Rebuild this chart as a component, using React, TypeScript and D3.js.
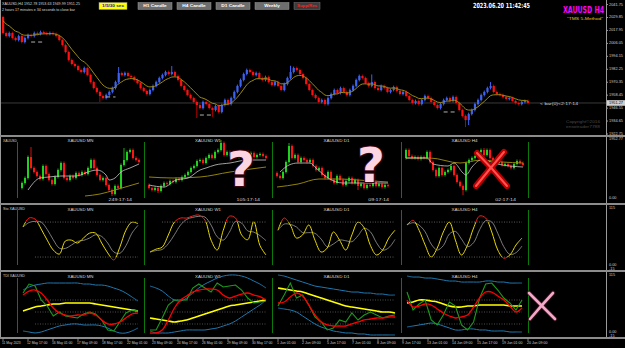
import React from 'react';
import * as d3 from 'd3';

const FONT = '"DejaVu Sans", "Liberation Sans", sans-serif';
const NARROW = '"Liberation Sans", Arial, sans-serif';

// ---------------- main H4 chart data ----------------
const mainOpen0 = 2030.3;
const mainClose = [
  2015.6, 2012.8, 2015.6, 2011.0, 2009.1, 2012.8, 2007.3, 2011.0, 2013.7, 2012.8,
  2015.6, 2014.7, 2016.5, 2015.6, 2014.7, 2015.6, 2014.7, 2012.8, 2009.1, 2004.5,
  1998.1, 1990.8, 1987.1, 1985.2, 1981.6, 1979.7, 1983.4, 1977.0, 1970.5, 1965.0,
  1961.4, 1957.7, 1955.8, 1958.6, 1961.4, 1965.0, 1970.5, 1978.8, 1977.0, 1978.8,
  1976.1, 1975.1, 1972.4, 1969.6, 1965.0, 1962.3, 1959.5, 1963.2, 1966.9, 1970.5,
  1974.2, 1977.0, 1979.7, 1977.9, 1979.7, 1976.1, 1972.4, 1966.9, 1963.2, 1958.6,
  1955.8, 1952.2, 1949.4, 1946.6, 1952.2, 1950.3, 1946.6, 1944.8, 1948.5, 1943.0,
  1949.4, 1954.0, 1950.3, 1955.8, 1961.4, 1966.9, 1972.4, 1977.9, 1981.6, 1979.7,
  1977.0, 1978.8, 1974.2, 1972.4, 1975.1, 1970.5, 1967.8, 1970.5, 1966.9, 1963.2,
  1968.7, 1974.2, 1979.7, 1983.4, 1981.6, 1977.9, 1974.2, 1968.7, 1963.2, 1958.6,
  1955.8, 1952.2, 1954.0, 1950.3, 1955.8, 1959.5, 1963.2, 1960.4, 1965.0, 1961.4,
  1958.6, 1963.2, 1966.9, 1972.4, 1976.1, 1974.2, 1969.6, 1966.9, 1970.5, 1965.0,
  1963.2, 1966.9, 1965.0, 1961.4, 1963.2, 1965.9, 1962.3, 1959.5, 1961.4, 1957.7,
  1954.0, 1951.2, 1953.1, 1950.3, 1954.0, 1957.7,
  1955.8, 1952.2, 1949.4, 1946.6, 1950.3, 1954.0, 1955.8, 1953.1, 1956.8, 1951.2,
  1944.8, 1939.3, 1935.6, 1941.1, 1944.8, 1950.3, 1954.0, 1958.6, 1961.4, 1965.0,
  1966.9, 1961.4, 1959.5, 1958.6, 1956.8, 1954.9, 1955.8, 1953.1, 1951.2, 1950.3,
  1952.2, 1953.1, 1951.27,
];
const mainHighSpikes: [number, number][] = [[0, 2031.5], [37, 1984.3], [54, 1985.2], [92, 1985.5], [118, 1977.5], [156, 1970.5]];
const mainLowSpikes: [number, number][] = [[31, 1952.2], [62, 1937.5], [67, 1938.5], [148, 1929.1], [149, 1931.0]];
const suppResMarks: [number, number, number][] = [[9, 13, 2007.3], [33, 36, 1956.8], [63, 67, 1940.2], [141, 145, 1943.0]];
const priceTicks = [2041.75, 2029.85, 2017.95, 2006.05, 1994.15, 1982.25, 1970.35, 1958.45, 1946.55, 1934.65, 1922.75];
const lastPrice = 1951.27;
const timeLabels = [
  '11 May 2023', '12 May 17:00', '16 May 01:00', '17 May 09:00', '18 May 17:00', '22 May 01:00',
  '23 May 09:00', '24 May 17:00', '26 May 01:00', '29 May 09:00', '30 May 17:00', '1 Jun 01:00',
  '2 Jun 09:00', '5 Jun 17:00', '7 Jun 01:00', '8 Jun 09:00', '9 Jun 17:00', '13 Jun 01:00',
  '14 Jun 09:00', '15 Jun 17:00', '19 Jun 01:00', '20 Jun 09:00',
];
const buttons = ['H1 Candle', 'H4 Candle', 'D1 Candle', 'Weekly'];

// ---------------- multi timeframe mini charts ----------------
const tfNames = ['XAUUSD MN', 'XAUUSD W1', 'XAUUSD D1', 'XAUUSD H4'];
const tfTimers = ['249:17:14', '105:17:14', '09:17:14', '02:17:14'];
const miniOpen0 = [12, 15, 27, 42];
const miniCloseMN = [17,22,43,32,28,24,21,34,26,20,16,23,30,37,22,20,24,22,27,25,28,26,32,40,32,25,20,22,15,10,6,14,12,35,40,48,50,42,40,38];
const miniCloseW1 = [12,10,12,9,14,17,16,19,18,21,20,23,25,28,32,34,39,40,37,42,45,42,48,50,57,45,48,44,47,43,46,44,48,45,47,43,45,46,44,42];
const miniCloseD1 = [24,22,28,38,54,42,45,38,42,40,38,40,34,30,32,25,22,28,20,17,24,20,15,19,22,17,20,14,16,12,15,14,18,14,16,13,15,14];
const miniCloseH4 = [50,44,42,43,41,43,42,48,38,30,24,32,25,28,30,34,25,18,14,10,37,40,42,44,48,50,45,50,42,40,37,38,35,36,34,32,36,39,37,35];
const miniWhiteMN: [number, number][] = [[2,10],[6,22],[9,23],[13,24],[18,24],[23,29],[25,30],[28,25],[29,20],[31,22],[33,28],[36,32],[39,36]];
const miniWhiteW1: [number, number][] = [[0,15],[5,13],[9,20],[13,22],[17,30],[19,32],[22,35],[27,37],[33,40],[39,40]];
const miniWhiteD1: [number, number][] = [[1,28],[4,35],[7,37],[11,37],[13,32],[17,22],[22,17],[27,17],[37,17]];
const miniWhiteH4: [number, number][] = [[0,42],[7,42],[9,36],[14,34],[16,37],[19,27],[20,25],[22,33],[25,40],[32,35],[39,33]];
const miniOliveMN: [number, number][] = [[21,4],[26,6],[31,10],[39,17]];
const miniOliveW1: [number, number][] = [[0,23],[8,22],[17,23],[27,28],[39,33]];
const miniOliveD1: [number, number][] = [[0,13],[7,16],[14,21],[21,21],[27,20],[37,18]];
const miniOliveH4: [number, number][] = [[0,42],[8,42],[18,37],[25,40],[32,38],[39,37]];
const miniHighSpikes: [number, number][][] = [[[3, 53], [34, 52]], [[24, 60]], [[4, 57]], [[26, 52]]];
const miniLowSpikes: [number, number][][] = [[[30, 4]], [[3, 7]], [[27, 10]], [[19, 5]]];

// ---------------- stochastic ----------------
const stochMN = [71.5,87,85,68,49,32,25,47.5,49,44,52.7,61,61,44,27,15,37,66,80,77];
const stochW1 = [28.6,33.6,37,57.8,80,86.9,86.9,90.4,92,83.4,49,32,66,90,87,58,49.6,80.8,40,23.5];
const stochD1 = [66,87,75,52.6,58,75,49,28.6,35.5,63,49,32,58,80,70,40,23.5,32,52.6,66];
const stochH4 = [75,83,66,40.6,20,35.5,63,80,49,23.5,40.6,69.8,90.4,86.9,63,32,18,23.5,40.6,52.6];

// ---------------- TDI ----------------
const tdiUpper = [
  [83,87.5,90.5,92,93.5,93.5,93.5,93.5,93.5,93.5,92,92,90.5,90.5,89,86,83,78.5,72.5,66.5],
  [89,86,81.5,74,68,66.5,71,78.5,86,92,96.5,101,104,105.5,105.5,104,101,96.5,92,86],
  [105.5,104,101,98,95,92,89,87.5,86,84.5,83,81.5,80,80,78.5,78.5,77,77,75.5,75.5],
  [104,102.5,102.5,101,101,99.5,98,96.5,96.5,95,95,95,95,96.5,96.5,95,95,93.5,93.5,93.5],
];
const tdiLower = [
  [21.5,20,18.5,20,23,26,29,30.5,32,32,30.5,30.5,30.5,29,26,21.5,18.5,18.5,21.5,26],
  [21.5,18.5,18.5,18.5,20,21.5,23,23,23,23,24.5,26,29,32,36.5,42.5,48.5,54.5,60.5,68],
  [56,54.5,53,50,44,38,32,27.5,24.5,21.5,20,18.5,18.5,17,17,15.5,15.5,15.5,15.5,15.5],
  [27.5,29,30.5,32,33.5,32,29,26,23,23,24.5,24.5,23,23,21.5,21.5,21.5,20,20,20],
];
const tdiMid = [
  [51.5,54.5,57.5,59,60.5,62,62,63.5,63.5,63.5,63.5,63.5,62,60.5,59,57.5,56,54.5,53,51.5],
  [41,39.5,38,36.5,35,36.5,38,41,44,47,50,53,56,59,60.5,62,63.5,65,66.5,68],
  [86,84.5,83,81.5,80,77,74,71,68,65,62,59,57.5,56,54.5,53,51.5,50,50,48.5],
  [63.5,65,68,68,66.5,65,62,59,57.5,57.5,59,59,60.5,60.5,60.5,60.5,60.5,59,59,59],
];
const tdiSignal = [
  [75.5,81.5,83,78.5,68,56,48.5,45.5,44,45.5,45.5,48.5,45.5,38,32,32,35,41,47,48.5],
  [18.5,18.5,23,38,56,68,74,80,83,84.5,84.5,83,75.5,71,74,77,78.5,75.5,73,68],
  [63.5,65,72.5,78.5,74,60.5,45.5,35,30.5,29,29,29,32,35,38,39.5,41,41,42.5,42.5],
  [68,57.5,59,62,60.5,54.5,48.5,44,41,42.5,45.5,57.5,71,80,80,74,68,59,50,56],
];
const tdiRsi = [
  [78.5,92,89,68,59,44,50,44,42.5,41,47,50,47,38,23,21.5,35,48.5,53,51.5],
  [23,23,41,60.5,68,68,68,86,92,86,80,93.5,87.5,89,90.5,83,71,63.5,65,66.5],
  [59,75.5,93.5,71,75.5,60.5,42.5,35,23,26,38,35,48.5,38,45.5,50,45.5,41,44,45.5],
  [80,53,62,68,38,30.5,45.5,65,59,30.5,23,35,71,92,93.5,83,71,63.5,53,68],
];

const subEdges = [17, 144, 272, 401, 528];

export default function App() {
  const mainX = d3.scaleLinear().domain([0, mainClose.length - 1]).range([3, 528]);
  const mainY = d3.scaleLinear().domain([1920, 2045]).range([137, 1]);

  // EMA of the closes (the moving average on the price chart)
  const ma: number[] = [];
  let e = mainOpen0;
  const k = 2 / (8 + 1);
  mainClose.forEach((c) => { e = e + (c - e) * k; ma.push(e); });
  const maLine = d3.line<number>().x((_, i) => mainX(i)).y((d) => mainY(d)).curve(d3.curveMonotoneX);

  const hiMap = new Map(mainHighSpikes);
  const loMap = new Map(mainLowSpikes);

  const miniCloses = [miniCloseMN, miniCloseW1, miniCloseD1, miniCloseH4];
  const miniWhite = [miniWhiteMN, miniWhiteW1, miniWhiteD1, miniWhiteH4];
  const miniOlive = [miniOliveMN, miniOliveW1, miniOliveD1, miniOliveH4];
  const miniY = d3.scaleLinear().domain([0, 60]).range([200, 140]);

  const stochs = [stochMN, stochW1, stochD1, stochH4];
  const stY = d3.scaleLinear().domain([0, 100]).range([268.7, 210.4]);
  const tdY = d3.scaleLinear().domain([0, 100]).range([345.3, 278.7]);

  const txt = (x: number, y: number, s: string, opts: any = {}) => (
    <text x={x} y={y} fontFamily={opts.family ?? FONT} fontSize={opts.size ?? 5} fill={opts.fill ?? '#d8d8d8'}
      textAnchor={opts.anchor ?? 'start'} fontWeight={opts.weight ?? 'normal'} dominantBaseline="middle"
      textLength={opts.len} lengthAdjust={opts.len ? 'spacingAndGlyphs' : undefined}>{s}</text>
  );

  return (
    <svg width={625} height={348} style={{ position: 'absolute', left: 0, top: 0, background: '#000', display: 'block' }}>
      <defs>
        <clipPath id="stMid"><rect x={0} y={222} width={606} height={35} /></clipPath>
        <clipPath id="stOut"><rect x={0} y={200} width={606} height={22} /><rect x={0} y={257} width={606} height={20} /></clipPath>
        <clipPath id="mainClip"><rect x={1} y={0} width={605} height={135} /></clipPath>
      </defs>
      <rect x={0} y={0} width={625} height={348} fill="#000" />

      {/* frames & separators */}
      <line x1={606.5} y1={0} x2={606.5} y2={338} stroke="#9a9a9a" strokeWidth={1} />
      <line x1={0.5} y1={0} x2={0.5} y2={338} stroke="#9a9a9a" strokeWidth={1} />
      {[136, 204, 271, 338].map((y) => (
        <rect key={y} x={0} y={y - 1} width={625} height={2} fill="#8c8c8c" />
      ))}

      {/* ---------- main chart ---------- */}
      <g clipPath="url(#mainClip)">
        <line x1={0} x2={606} y1={mainY(lastPrice)} y2={mainY(lastPrice)} stroke="#3a3a3a" strokeWidth={1} />
        {mainClose.map((c, i) => {
          const o = i === 0 ? mainOpen0 : mainClose[i - 1];
          const up = c >= o;
          const hi = hiMap.get(i) ?? Math.max(o, c) + 1.3;
          const lo = loMap.get(i) ?? Math.min(o, c) - 1.3;
          const col = up ? '#3b62f0' : '#ff1010';
          const x = mainX(i);
          return (
            <g key={i}>
              <line x1={x} x2={x} y1={mainY(hi)} y2={mainY(lo)} stroke={up ? '#3b62f0' : '#b00000'} strokeWidth={1} />
              <rect x={x - 1} y={mainY(Math.max(o, c))} width={2.2} height={Math.max(1, mainY(Math.min(o, c)) - mainY(Math.max(o, c)))} fill={col} />
            </g>
          );
        })}
        <path d={maLine(ma) ?? ''} fill="none" stroke="#9c8a10" strokeWidth={1} />
        {suppResMarks.map(([a, b, p], i) => (
          <line key={i} x1={mainX(a)} x2={mainX(b)} y1={mainY(p)} y2={mainY(p)} stroke="#b0b0b0" strokeWidth={1} strokeDasharray="4,3" />
        ))}
      </g>
      {txt(2, 4, 'XAUUSD,H4  1952.78 1953.63 1949.99 1951.25', { size: 3.8, family: NARROW, len: 78 })}
      {txt(2, 9.5, '2 hours 17 minutes e 34 seconds to close bar', { size: 3.8, family: NARROW, len: 73 })}
      <rect x={99} y={2.5} width={28} height={7} fill="#ffff00" stroke="#888" strokeWidth={0.5} />
      {txt(113, 6.2, '1/5/30 sec', { size: 4, family: NARROW, fill: '#1010c0', anchor: 'middle', weight: 'bold', len: 22 })}
      {buttons.map((b, i) => (
        <g key={b}>
          <rect x={138 + i * 39} y={2.5} width={34} height={7} fill="#6e6e6e" stroke="#9a9a9a" strokeWidth={0.5} />
          {txt(155 + i * 39, 6.2, b, { size: 4.2, family: NARROW, fill: '#ffffff', anchor: 'middle', weight: 'bold', len: b.length * 2.6 })}
        </g>
      ))}
      <rect x={294} y={2.5} width={26} height={7} fill="#3c3c3c" stroke="#777" strokeWidth={0.5} />
      {txt(307, 6.2, 'Supp/Res', { size: 4.2, family: NARROW, fill: '#ff2020', anchor: 'middle', weight: 'bold', len: 20 })}
      {txt(473, 6.5, '2023.06.20 11:42:45', { size: 7, fill: '#ffffff', weight: 'bold', len: 57 })}
      {txt(563, 10.5, 'XAUUSD H4', { size: 8, fill: '#ff00ff', weight: 'bold', len: 41 })}
      {txt(567, 18.5, '"TMS 5-Method"', { size: 4.3, family: NARROW, fill: '#e6c020', len: 36 })}
      {txt(540, mainY(lastPrice) + 0.5, '< bar(0)<2:17:14', { size: 4.4, family: NARROW, fill: '#d0d0d0', len: 38 })}
      {txt(566, 121.5, 'Copyright©2016', { size: 4, family: NARROW, fill: '#4a4a4a', len: 34 })}
      {txt(566, 126.5, 'ensotrader7788', { size: 4, family: NARROW, fill: '#4a4a4a', len: 34 })}
      {priceTicks.map((p) => (
        <g key={p}>
          <line x1={606} x2={608} y1={mainY(p)} y2={mainY(p)} stroke="#9a9a9a" />
          {txt(609, mainY(p), p.toFixed(2), { size: 3.8, family: NARROW, fill: '#cfcfcf', len: 14 })}
        </g>
      ))}
      <rect x={607} y={mainY(lastPrice) - 2.8} width={18} height={5.6} fill="#d0d0d0" />
      {txt(609, mainY(lastPrice), lastPrice.toFixed(2), { size: 3.8, family: NARROW, fill: '#000', len: 14 })}

      {/* ---------- panel labels ---------- */}
      {txt(3, 140.5, 'XAUUSD', { size: 3.8, family: NARROW, fill: '#cfcfcf', len: 14 })}
      {txt(3, 208.5, 'Sto XAUUSD', { size: 3.8, family: NARROW, fill: '#cfcfcf', len: 22 })}
      {txt(3, 275.5, 'TDI XAUUSD', { size: 3.8, family: NARROW, fill: '#cfcfcf', len: 22 })}
      {txt(609, 139, '1952.77', { size: 3.8, family: NARROW, fill: '#cfcfcf', len: 14 })}
      {txt(609, 198, '0.00', { size: 3.8, family: NARROW, fill: '#cfcfcf' })}
      {txt(609, 207.5, '115', { size: 3.8, family: NARROW, fill: '#cfcfcf' })}
      {txt(609, 264.5, '0.00', { size: 3.8, family: NARROW, fill: '#cfcfcf' })}
      {txt(609, 268.5, '-15', { size: 3.8, family: NARROW, fill: '#cfcfcf' })}
      {txt(609, 275, '115', { size: 3.8, family: NARROW, fill: '#cfcfcf' })}
      {txt(609, 331.5, '0.00', { size: 3.8, family: NARROW, fill: '#cfcfcf' })}
      {txt(609, 335.5, '-15', { size: 3.8, family: NARROW, fill: '#cfcfcf' })}

      {/* ---------- sub charts ---------- */}
      {[0, 1, 2, 3].map((s) => {
        const x0 = subEdges[s];
        const x1 = subEdges[s + 1];
        const cx = (x0 + x1) / 2;
        const closes = miniCloses[s];
        const cX = d3.scaleLinear().domain([0, 39]).range([x0 + 5, x0 + 5 + 39 * 3]);
        const hi = new Map(miniHighSpikes[s]);
        const lo = new Map(miniLowSpikes[s]);
        const kp = d3.line<[number, number]>().x((d) => cX(d[0])).y((d) => miniY(d[1])).curve(d3.curveMonotoneX);
        const gX = d3.scaleLinear().domain([0, 19]).range([x0 + 6, x1 - 6]);
        const stLine = d3.line<number>().x((_, i) => gX(i)).y((d) => stY(d)).curve(d3.curveCatmullRom);
        const sig = stochs[s].map((_, i, a) => d3.mean(a.slice(Math.max(0, i - 2), i + 1)) as number);
        const tdLine = d3.line<number>().x((_, i) => gX(i)).y((d) => tdY(d)).curve(d3.curveCatmullRom);
        const tdLineG = d3.line<number>().x((_, i) => gX(i)).y((d) => tdY(d)).curve(d3.curveLinear);
        return (
          <g key={s}>
            <line x1={x0 + 0.5} x2={x0 + 0.5} y1={142} y2={198} stroke="#0b7a0b" strokeWidth={1} />
            <line x1={x1 + 0.5} x2={x1 + 0.5} y1={142} y2={198} stroke="#0b7a0b" strokeWidth={1} />
            <line x1={x0 + 0.5} x2={x0 + 0.5} y1={210} y2={265} stroke="#0b7a0b" strokeWidth={1} />
            <line x1={x1 + 0.5} x2={x1 + 0.5} y1={210} y2={265} stroke="#0b7a0b" strokeWidth={1} />
            <line x1={x0 + 0.5} x2={x0 + 0.5} y1={278} y2={333} stroke="#0b7a0b" strokeWidth={1} />
            <line x1={x1 + 0.5} x2={x1 + 0.5} y1={278} y2={333} stroke="#0b7a0b" strokeWidth={1} />
            {txt(cx, 140.5, tfNames[s], { size: 4.2, family: NARROW, anchor: 'middle', len: 26 })}
            {txt(cx, 209.5, tfNames[s], { size: 4.2, family: NARROW, anchor: 'middle', len: 26 })}
            {txt(cx, 276.5, tfNames[s], { size: 4.2, family: NARROW, anchor: 'middle', len: 26 })}
            {txt(x1 - 12, 200, tfTimers[s], { size: 4.4, family: NARROW, anchor: 'end', fill: '#d0d0d0', len: tfTimers[s].length * 2.6 })}

            {closes.map((c, i) => {
              const o = i === 0 ? miniOpen0[s] : closes[i - 1];
              const up = c >= o;
              const col = up ? '#1ed21e' : '#ff1414';
              const h = hi.get(i) ?? Math.max(o, c) + 1.5;
              const l = lo.get(i) ?? Math.min(o, c) - 1.5;
              const x = cX(i);
              return (
                <g key={i}>
                  <line x1={x} x2={x} y1={miniY(h)} y2={miniY(l)} stroke={col} strokeWidth={0.8} />
                  <rect x={x - 1} y={miniY(Math.max(o, c))} width={2} height={Math.max(0.8, miniY(Math.min(o, c)) - miniY(Math.max(o, c)))} fill={col} />
                </g>
              );
            })}
            <path d={kp(miniOlive[s]) ?? ''} fill="none" stroke="#a09010" strokeWidth={0.9} />
            <path d={kp(miniWhite[s]) ?? ''} fill="none" stroke="#c8c8c8" strokeWidth={0.8} />

            {[80, 20].map((lv) => (
              <line key={lv} x1={x0 + 18} x2={x1 - 6} y1={stY(lv)} y2={stY(lv)} stroke="#707070" strokeWidth={0.8} strokeDasharray="1,1.5" />
            ))}
            <path d={stLine(sig) ?? ''} fill="none" stroke="#8a8a8a" strokeWidth={0.9} />
            <path d={stLine(stochs[s]) ?? ''} fill="none" stroke="#e8d800" strokeWidth={1} clipPath="url(#stMid)" />
            <path d={stLine(stochs[s]) ?? ''} fill="none" stroke="#ff1a1a" strokeWidth={1} clipPath="url(#stOut)" />

            {[68, 50, 32].map((lv) => (
              <line key={lv} x1={x0 + 18} x2={x1 - 6} y1={tdY(lv)} y2={tdY(lv)} stroke="#606060" strokeWidth={0.8} strokeDasharray="1,1.5" />
            ))}
            <path d={tdLine(tdiUpper[s]) ?? ''} fill="none" stroke="#1f78b0" strokeWidth={1} />
            <path d={tdLine(tdiLower[s]) ?? ''} fill="none" stroke="#1f78b0" strokeWidth={1} />
            <path d={tdLine(tdiMid[s]) ?? ''} fill="none" stroke="#ffff00" strokeWidth={1.6} />
            <path d={tdLineG(tdiRsi[s]) ?? ''} fill="none" stroke="#1d9a1d" strokeWidth={1.1} />
            <path d={tdLine(tdiSignal[s]) ?? ''} fill="none" stroke="#ff0000" strokeWidth={1.3} />
          </g>
        );
      })}

      {/* annotations */}
      {[[241, 186], [371, 182]].map(([x, y], i) => (
        <text key={i} x={x} y={y} fontFamily={FONT} fontWeight="bold" fontSize={48} textAnchor="middle"
          fill="#fbd6e2" stroke="#3a0614" strokeWidth={2.2} paintOrder="stroke">?</text>
      ))}
      <g strokeLinecap="round" fill="none">
        <path d="M477,153 Q492,168 507,186" stroke="#c00000" strokeWidth={6} />
        <path d="M504,152 Q489,170 476,186" stroke="#c00000" strokeWidth={6} />
        <path d="M477,153 Q492,168 507,186" stroke="#ff5050" strokeWidth={2} />
        <path d="M504,152 Q489,170 476,186" stroke="#ff5050" strokeWidth={2} />
      </g>
      <g strokeLinecap="round" fill="none">
        <path d="M529,293 Q542,306 555,319" stroke="#3a1020" strokeWidth={4.5} />
        <path d="M553,293 Q541,306 530,319" stroke="#3a1020" strokeWidth={4.5} />
        <path d="M529,293 Q542,306 555,319" stroke="#f4a8c8" strokeWidth={2.6} />
        <path d="M553,293 Q541,306 530,319" stroke="#f4a8c8" strokeWidth={2.6} />
      </g>

      {/* time axis */}
      {timeLabels.map((t, i) => (
        <g key={t}>
          <line x1={mainX(i * 8)} x2={mainX(i * 8)} y1={338} y2={341} stroke="#9a9a9a" strokeWidth={0.8} />
          {txt(mainX(i * 8) - 1, 343.5, t, { size: 3.6, family: NARROW, fill: '#d0d0d0', len: t.length * 1.7 })}
        </g>
      ))}
    </svg>
  );
}
